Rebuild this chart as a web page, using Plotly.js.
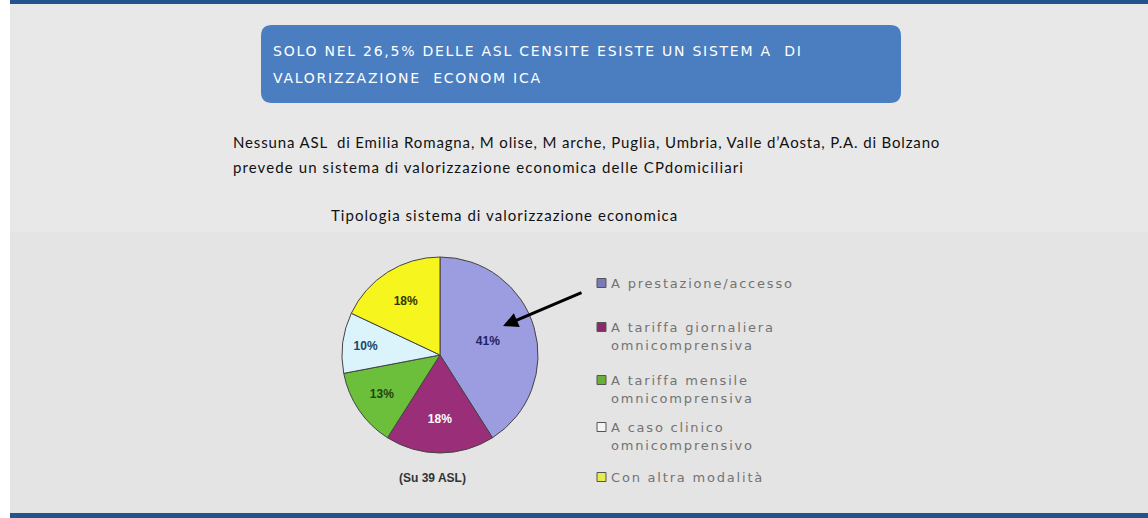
<!DOCTYPE html>
<html>
<head>
<meta charset="utf-8">
<script src="https://cdn.plot.ly/plotly-3.0.1.min.js"></script>
<style>html,body{margin:0;padding:0;background:#fff;}#chart{width:1148px;height:518px;}</style>
</head>
<body>
<div id="chart"></div>
<script>
// ---- data ----
const categories = [
  "A prestazione/accesso",
  "A tariffa giornaliera omnicomprensiva",
  "A tariffa mensile omnicomprensiva",
  "A caso clinico omnicomprensivo",
  "Con altra modalità"
];
const legendLines = [
  ["A prestazione/accesso"],
  ["A tariffa giornaliera", "omnicomprensiva"],
  ["A tariffa mensile", "omnicomprensiva"],
  ["A caso clinico", "omnicomprensivo"],
  ["Con altra modalità"]
];
const shares = [41, 18, 13, 10, 18];
const titleLines = ["SOLO NEL 26,5% DELLE ASL CENSITE ESISTE UN SISTEM A  DI", "VALORIZZAZIONE  ECONOM ICA"];
const noteLines = [
  "Nessuna ASL  di Emilia Romagna, M olise, M arche, Puglia, Umbria, Valle d’Aosta, P.A. di Bolzano",
  "prevede un sistema di valorizzazione economica delle CPdomiciliari"
];
const chartTitle = "Tipologia sistema di valorizzazione economica";
const baseNote = "(Su 39 ASL)";

// ---- styles ----
const sliceColors = ["#9c9ce0", "#9b2e78", "#6cbf3a", "#dbf3fb", "#f6f61e"];
const swatchColors = ["#7a7ab8", "#8a2a68", "#6cae3a", "#f4f4f4", "#e8ec4a"];
const W = 1148, H = 518;
const X = v => v / W;
const Y = v => 1 - v / H;

const shapes = [
  {type:"rect", xref:"paper", yref:"paper", x0:X(10), x1:X(W), y0:Y(513), y1:Y(4), fillcolor:"#e8e8e8", line:{width:0}, layer:"below"},
  {type:"rect", xref:"paper", yref:"paper", x0:X(10), x1:X(W), y0:Y(513), y1:Y(232), fillcolor:"#e4e4e4", line:{width:0}, layer:"below"},
  {type:"rect", xref:"paper", yref:"paper", x0:X(10), x1:X(W), y0:Y(4), y1:Y(0), fillcolor:"#24528f", line:{width:0}, layer:"below"},
  {type:"rect", xref:"paper", yref:"paper", x0:X(10), x1:X(W), y0:Y(518), y1:Y(513), fillcolor:"#24528f", line:{width:0}, layer:"below"}
];
// rounded title box
(function(){
  const x0=261, x1=901, y0=25, y1=103, r=11;
  const p = [
    `M ${X(x0+r)} ${Y(y0)}`, `L ${X(x1-r)} ${Y(y0)}`, `Q ${X(x1)} ${Y(y0)} ${X(x1)} ${Y(y0+r)}`,
    `L ${X(x1)} ${Y(y1-r)}`, `Q ${X(x1)} ${Y(y1)} ${X(x1-r)} ${Y(y1)}`,
    `L ${X(x0+r)} ${Y(y1)}`, `Q ${X(x0)} ${Y(y1)} ${X(x0)} ${Y(y1-r)}`,
    `L ${X(x0)} ${Y(y0+r)}`, `Q ${X(x0)} ${Y(y0)} ${X(x0+r)} ${Y(y0)}`, "Z"
  ].join(" ");
  shapes.push({type:"path", xref:"paper", yref:"paper", path:p, fillcolor:"#4a7ec0", line:{width:0}, layer:"below"});
})();

const annotations = [];
const spacing = [];
function addText(opts, ls) { annotations.push(opts); spacing.push(ls || 0); }

const titleY = [51, 78];
titleLines.forEach((t, i) => addText({xref:"paper", yref:"paper", x:X(271), y:Y(titleY[i]), xanchor:"left", align:"left", yanchor:"middle", showarrow:false, text:t, font:{family:"DejaVu Sans", size:14, color:"#ffffff"}}, 1.75));
const noteY = [142, 167];
const noteSpacing = [0.85, 1.1];
noteLines.forEach((t, i) => addText({xref:"paper", yref:"paper", x:X(231), y:Y(noteY[i]), xanchor:"left", align:"left", yanchor:"middle", showarrow:false, text:t, font:{family:"Lato", size:15, color:"#111111"}}, noteSpacing[i]));
addText({xref:"paper", yref:"paper", x:X(329), y:Y(215), xanchor:"left", align:"left", yanchor:"middle", showarrow:false, text:chartTitle, font:{family:"Lato", size:15, color:"#111111"}}, 1.05);
addText({xref:"paper", yref:"paper", x:X(432), y:Y(478), xanchor:"center", yanchor:"middle", showarrow:false, text:"<b>"+baseNote+"</b>", font:{family:"Arial", size:12, color:"#333333"}}, 0);

// legend (manual)
const legendTop = [283, 327, 380, 427, 477];
const lineGap = 18.5;
legendLines.forEach((lines, i) => {
  shapes.push({type:"rect", xref:"paper", yref:"paper", x0:X(597), x1:X(606), y0:Y(legendTop[i]+4.5), y1:Y(legendTop[i]-4.5), fillcolor:swatchColors[i], line:{color:"#555555", width:1}});
  lines.forEach((t, j) => addText({xref:"paper", yref:"paper", x:X(609), y:Y(legendTop[i] + j*lineGap), xanchor:"left", align:"left", yanchor:"middle", showarrow:false, text:t, font:{family:"DejaVu Sans", size:13, color:"#737373"}}, 1.8));
});

// arrow
addText({xref:"paper", yref:"paper", x:X(503), y:Y(326), ax:80, ay:-34, axref:"pixel", ayref:"pixel", showarrow:true, arrowhead:2, arrowsize:1, arrowwidth:3, arrowcolor:"#000000", text:""}, 0);

const pie = {
  type:"pie",
  labels:categories,
  values:shares,
  sort:false,
  direction:"clockwise",
  rotation:0,
  textinfo:"percent",
  texttemplate:"<b>%{percent:.0%}</b>",
  textposition:"inside",
  insidetextorientation:"horizontal",
  insidetextfont:{family:"Arial", size:12, color:["#222266", "#ffffff", "#224411", "#224466", "#333300"]},
  marker:{colors:sliceColors, line:{color:"#444444", width:1}},
  domain:{x:[X(342), X(538)], y:[Y(455), Y(255)]},
  hoverinfo:"label+percent",
  showlegend:false
};

Plotly.newPlot("chart", [pie], {
  width:W, height:H,
  margin:{l:0, r:0, t:0, b:0},
  paper_bgcolor:"#ffffff",
  showlegend:false,
  shapes:shapes,
  annotations:annotations
}, {displayModeBar:false, staticPlot:true}).then(gd => {
  gd.querySelectorAll(".annotation").forEach(g => {
    const idx = +g.getAttribute("data-index");
    const ls = spacing[idx];
    if (ls) {
      const t = g.querySelector(".annotation-text");
      if (t) t.setAttribute("letter-spacing", ls + "px");
    }
  });
});
</script>
</body>
</html>
